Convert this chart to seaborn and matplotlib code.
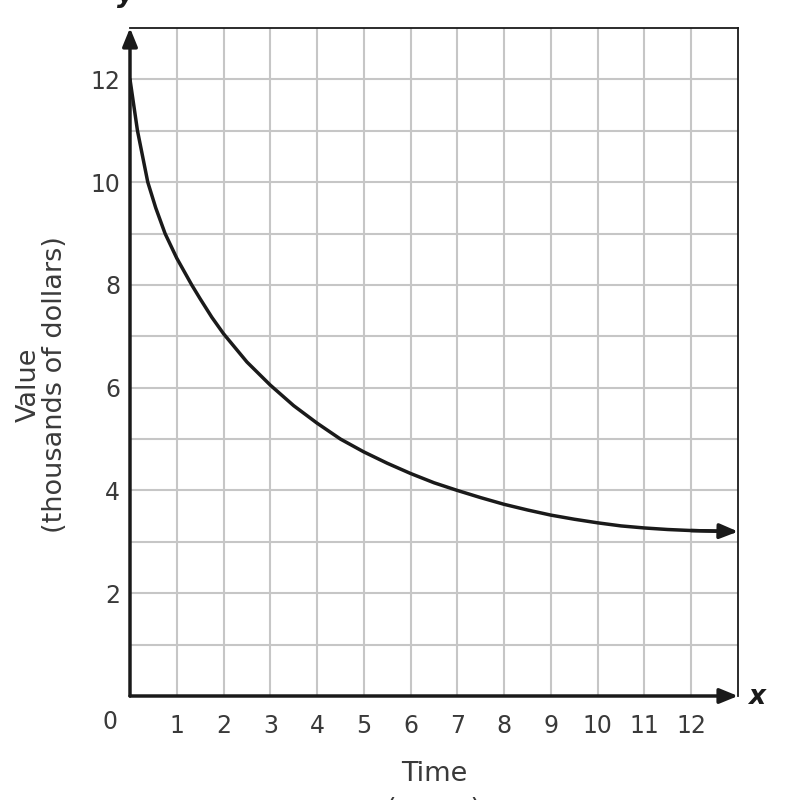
"""Decay curve of value over time on a square grid."""
import matplotlib
matplotlib.use("Agg")
import matplotlib.pyplot as plt
import pandas as pd
import seaborn as sns

# values
time_years = [0.0, 0.16, 0.38, 0.55, 0.75, 1.0, 1.32, 1.5, 1.75, 2.0, 2.5,
              3.0, 3.5, 4.0, 4.5, 5.0, 5.5, 6.0, 6.5, 7.0, 7.5, 8.0, 8.5,
              9.0, 9.5, 10.0, 10.5, 11.0, 11.5, 12.0, 12.9]
value_k = [12.0, 11.0, 10.0, 9.5, 9.0, 8.52, 8.0, 7.73, 7.37, 7.05, 6.5,
           6.05, 5.65, 5.31, 5.0, 4.75, 4.53, 4.33, 4.15, 4.0, 3.86, 3.73, 3.62,
           3.52, 3.44, 3.37, 3.31, 3.27, 3.24, 3.22, 3.2]
x_ticks = list(range(1, 13))
y_ticks = [2, 4, 6, 8, 10, 12]
x_max, y_max = 13, 13

df = pd.DataFrame({"Time": time_years, "Value": value_k})

sns.set_style("white")
plt.rcParams["font.family"] = ["DejaVu Sans"]

fig = plt.figure(figsize=(8, 8), dpi=100)
ax = fig.add_axes([130 / 800, 1 - 696 / 800, 608 / 800, 668 / 800])

grid_c = "#c6c6c6"
for v in range(1, x_max):
    ax.axvline(v, color=grid_c, lw=1.5, zorder=0)
for v in range(1, y_max):
    ax.axhline(v, color=grid_c, lw=1.5, zorder=0)

sns.lineplot(data=df, x="Time", y="Value", ax=ax, color="#1a1a1a", lw=2.5,
             sort=False, zorder=3)

arrow_style = "-|>,head_length=1.1,head_width=0.45"

# arrowhead on the curve end
ax.annotate("", xy=(x_max, value_k[-1]), xytext=(time_years[-2], value_k[-2]),
            arrowprops=dict(arrowstyle=arrow_style, color="#1a1a1a", lw=2.5,
                            shrinkA=0, shrinkB=0),
            annotation_clip=False, zorder=4)

# axis arrows
for tip in [(0, y_max), (x_max, 0)]:
    ax.annotate("", xy=tip, xytext=(0, 0),
                arrowprops=dict(arrowstyle=arrow_style, color="#1a1a1a", lw=2.5,
                                shrinkA=0, shrinkB=0),
                annotation_clip=False, zorder=5)

ax.set_xlim(0, x_max)
ax.set_ylim(0, y_max)
for side in ["top", "right"]:
    ax.spines[side].set_linewidth(1.3)
    ax.spines[side].set_color("#1a1a1a")
for side in ["left", "bottom"]:
    ax.spines[side].set_visible(False)

ax.set_xticks(x_ticks)
ax.set_yticks(y_ticks)
ax.tick_params(axis="both", length=0, labelsize=17, labelcolor="#3a3a3a")
ax.tick_params(axis="x", pad=13)
ax.tick_params(axis="y", pad=7)
ax.set_xlabel("")
ax.set_ylabel("")

fig.text(110 / 800, 1 - 722 / 800, "0", fontsize=17, color="#3a3a3a",
         ha="center", va="center")
fig.text(757 / 800, 1 - 697 / 800, "x", fontsize=19, fontweight="bold",
         style="italic", color="#1a1a1a", ha="center", va="center")
fig.text(126 / 800, 1 - 2 / 800, "y", fontsize=19, fontweight="bold",
         style="italic", color="#1a1a1a", ha="center", va="baseline")
fig.text(42 / 800, 1 - 385 / 800, "Value\n(thousands of dollars)", fontsize=19.5,
         color="#3a3a3a", rotation=90, ha="center", va="center",
         multialignment="center", linespacing=1.0)
fig.text(434 / 800, 1 - 761 / 800, "Time\n(years)", fontsize=19.5,
         color="#3a3a3a", ha="center", va="top", linespacing=1.5)

fig.savefig("out.png", dpi=100)
plt.close(fig)
